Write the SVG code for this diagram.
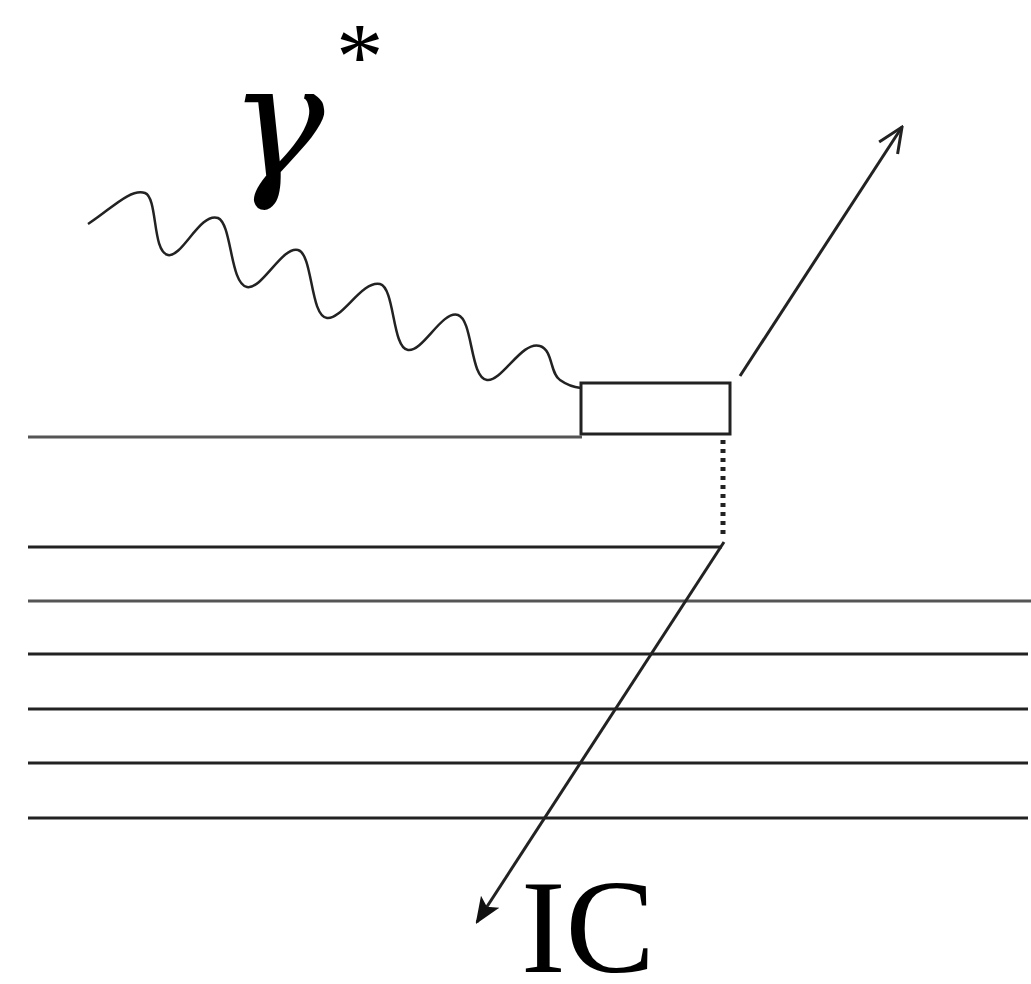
<svg xmlns="http://www.w3.org/2000/svg" width="1031" height="984" viewBox="0 0 1031 984">
<style>
.ln{stroke:#222;stroke-width:3;fill:none}
.gl{stroke:#555;stroke-width:3;fill:none}
.tx{font-family:"Liberation Serif",serif;fill:#000}
.gam{font-family:"DejaVu Serif",serif;font-style:italic;fill:#000}
.dot{stroke:#222;stroke-width:5;stroke-dasharray:4,5;fill:none}
.wave{stroke:#222;stroke-width:2.5;fill:none}
</style>
<defs>
<marker id="ah" viewBox="0 0 30 30" refX="28" refY="15" markerWidth="30" markerHeight="30" markerUnits="userSpaceOnUse" orient="auto">
<path d="M3,4 L28,15 L3,26" fill="none" stroke="#222" stroke-width="3"/>
</marker>
<marker id="ah2" viewBox="0 0 26 26" refX="24" refY="13" markerWidth="26" markerHeight="26" markerUnits="userSpaceOnUse" orient="auto">
<path d="M2,4 L24,13 L2,22 L7,13 Z" fill="#111" stroke="#111" stroke-width="2"/>
</marker>
</defs>
<rect width="1031" height="984" fill="#fff"/>
<g id="layers">
<line class="gl" x1="28" y1="437" x2="582" y2="437"/>
<line class="ln" x1="28" y1="547" x2="722" y2="547"/>
<line class="gl" x1="28" y1="601" x2="1031" y2="601"/>
<line class="ln" x1="28" y1="654" x2="1028" y2="654"/>
<line class="ln" x1="28" y1="709" x2="1028" y2="709"/>
<line class="ln" x1="28" y1="763" x2="1028" y2="763"/>
<line class="ln" x1="28" y1="818" x2="1028" y2="818"/>
</g>
<g id="box">
<rect class="ln" x="581" y="383" width="149" height="51"/>
</g>
<g id="photon">
<path class="wave" d="M88,224 C110,210 130,188 145,193 C158,198 152,252 168,255 C182,258 200,212 218,218 C232,224 230,284 247,287 C262,290 282,246 298,250 C313,254 310,316 327,318 C342,320 362,280 380,284 C395,288 392,348 408,350 C423,352 442,310 458,315 C473,320 470,378 487,380 C502,382 522,340 540,346 C553,350 550,374 560,380 C567,385 572,387 581,388"/>
</g>
<g id="connectors">
<line class="ln" x1="740" y1="376" x2="902" y2="127" marker-end="url(#ah)"/>
<line class="dot" x1="723" y1="440" x2="723" y2="538"/>
<line class="ln" x1="724" y1="542" x2="477" y2="922" marker-end="url(#ah2)"/>
</g>
<g id="labels">
<text class="gam" x="229" y="177" font-size="160">γ</text>
<text class="tx" x="336" y="89" font-size="95">*</text>
<text class="tx" x="521" y="972" font-size="134">IC</text>
</g>
</svg>
